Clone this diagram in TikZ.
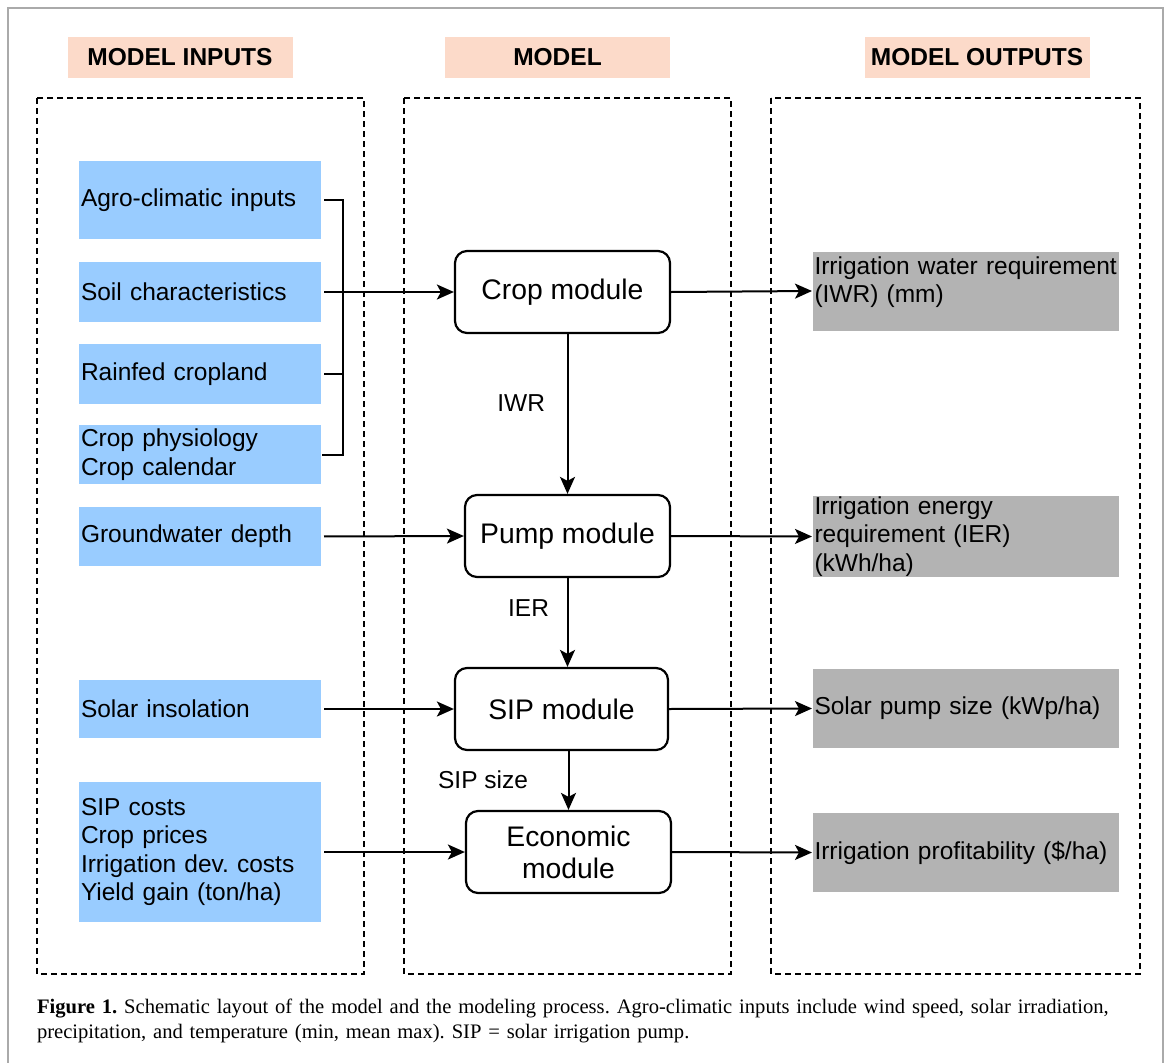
\documentclass[tikz,border=0pt]{standalone}
\usepackage{fontspec}
\setmainfont{Liberation Serif}
\newfontfamily\arialfont{Liberation Sans}
\usetikzlibrary{arrows.meta}
\definecolor{headpeach}{RGB}{252,218,201}
\definecolor{inblue}{RGB}{153,204,255}
\definecolor{outgray}{RGB}{179,179,179}
\definecolor{framegray}{RGB}{170,170,170}

\begin{document}
\begin{tikzpicture}[x=1pt,y=-1pt,line width=2pt,
  txt/.style={font=\frenchspacing\arialfont\fontsize{24.5}{28.6}\selectfont},
  head/.style={fill=headpeach,minimum width=225pt,minimum height=41pt,inner sep=0pt,font=\arialfont\bfseries\fontsize{24.5}{28.6}\selectfont},
  inbox/.style={txt,fill=inblue,text width=238pt,inner xsep=2pt,inner ysep=0pt,align=left},
  outbox/.style={txt,fill=outgray,text width=303pt,inner xsep=1.5pt,inner ysep=0pt,align=left,minimum height=79pt},
  modbox/.style={draw,rounded corners=12pt,line width=2.2pt,align=center,minimum height=82pt,font=\arialfont\fontsize{28.3}{32}\selectfont},
  lbl/.style={txt,inner sep=0pt},
  dashbox/.style={dash pattern=on 6pt off 4pt,line width=1.8pt},
  arr/.style={-{Stealth[length=17pt,width=15pt,inset=4pt]}},
  feed/.style={shorten <=2pt}]
\useasboundingbox(0,0)rectangle(1168,1063);
% frame, headers, columns
\draw[framegray,line width=1.5pt](8,1070)--(8,8)--(1163,8)--(1163,1070);
\node[head](hin)at(180,57.5){MODEL INPUTS};
\node[head](hmod)at(557.5,57.5){MODEL};
\node[head](hout)at(977,57.5){MODEL OUTPUTS};
\draw[dashbox](37,98)rectangle(364,974);
\draw[dashbox](404,98)rectangle(731,974);
\draw[dashbox](771,98)rectangle(1140,974);
% inputs
\node[inbox,minimum height=78pt](agro)at(200,200){Agro-climatic inputs};
\node[inbox,minimum height=60pt](soil)at(200,292){Soil characteristics};
\node[inbox,minimum height=60pt](rain)at(200,374){Rainfed cropland};
\node[inbox,minimum height=59pt](phys)at(200,454.5){Crop physiology\\Crop calendar};
\node[inbox,minimum height=59pt](ground)at(200,536.5){Groundwater depth};
\node[inbox,minimum height=58pt](solar)at(200,709){Solar insolation};
\node[inbox,minimum height=140pt](cost)at(200,852){SIP costs\\Crop prices\\Irrigation dev. costs\\Yield gain (ton/ha)};
% model
\node[modbox,minimum width=215pt](crop)at(562.5,292){Crop module};
\node[modbox,minimum width=205pt](pump)at(567.5,536){Pump module};
\node[modbox,minimum width=213pt](sip)at(561.5,709){SIP module};
\node[modbox,minimum width=205pt](econ)at(568.5,852){Economic\\module};
% outputs
\node[outbox,text height=20pt,text depth=54pt](iwr)at(966,291){Irrigation water requirement\\(IWR) (mm)};
\node[outbox](ier)at(966,536.5){Irrigation energy\\requirement (IER)\\(kWh/ha)};
\node[outbox](spump)at(966,708.5){Solar pump size (kWp/ha)};
\node[outbox](prof)at(966,852.5){Irrigation profitability (\$/ha)};
% connectors
\coordinate(brk)at(343,292);
\draw[feed](agro.east)-|(brk)|-(phys.east);
\draw[feed](rain.east)--(rain.east-|brk);
\draw[arr,feed](soil.east)--(crop.west);
\draw[arr,feed](ground.east)--(pump.west);
\draw[arr,feed](solar.east)--(sip.west);
\draw[arr,feed](cost.east)--(econ.west);
\draw[arr](crop.east)--(iwr.west);
\draw[arr](pump.east)--(ier.west);
\draw[arr](sip.east)--(spump.west);
\draw[arr](econ.east)--(prof.west);
\draw[arr](crop.south-|pump.north)--(pump.north);
\draw[arr](pump.south)--(pump.south|-sip.north);
\draw[arr](sip.south-|econ.north)--(econ.north);
\node[lbl,anchor=east](liwr)at(546,403){IWR};
\node[lbl,anchor=east](lier)at(550,608){IER};
\node[lbl,anchor=east](lsip)at(529,780){SIP size};
% caption
\node[anchor=base west,inner sep=0pt,text width=1200pt,align=left,font=\frenchspacing\fontsize{20.6}{25}\selectfont](cap)at(36,1013){\textbf{Figure 1.} Schematic layout of the model and the modeling process. Agro-climatic inputs include wind speed, solar irradiation,\\precipitation, and temperature (min, mean max). SIP = solar irrigation pump.};
\end{tikzpicture}
\end{document}
